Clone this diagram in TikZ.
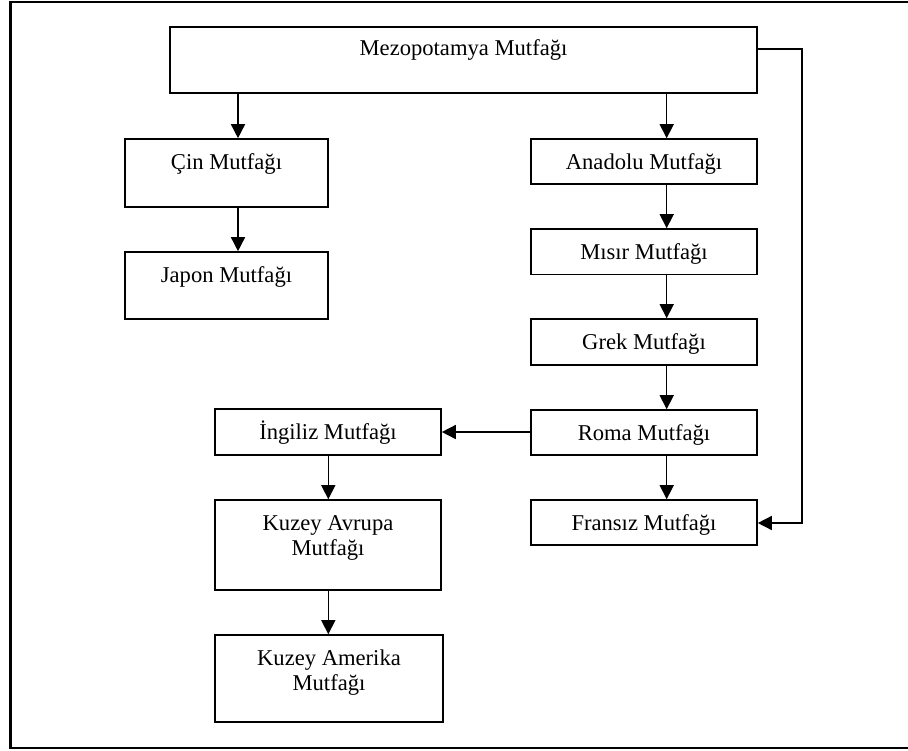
\documentclass[tikz,border=0pt]{standalone}
\usepackage{fontspec}
\setmainfont{Liberation Serif}
\usetikzlibrary{arrows.meta,calc}
\tikzset{
  box/.style={draw, line width=1.6pt, inner sep=0pt, rectangle},
  txt/.style={font=\fontsize{22.6}{25}\selectfont, inner sep=0pt, align=center, anchor=base},
  arr/.style={line width=1.5pt, -{Triangle[width=14pt,length=14pt]}},
  frame/.style={draw, line width=2.5pt}
}
\begin{document}
\begin{tikzpicture}[x=1pt,y=-1pt]
\useasboundingbox (0,0) rectangle (908,750);
\draw[frame] (10.5,2) rectangle (912,748);
% boxes
\node[box, minimum width=587pt, minimum height=66pt] (mez) at (463.5,60) {};
\node[box, minimum width=203pt, minimum height=68pt] (cin) at (226.5,173) {};
\node[box, minimum width=203pt, minimum height=67pt] (jap) at (226.5,285.5) {};
\node[box, minimum width=226pt, minimum height=45pt] (ana) at (644,161.5) {};
\node[box, minimum width=226pt, minimum height=45.5pt] (mis) at (644,251.75) {};
\node[box, minimum width=226pt, minimum height=46pt] (gre) at (644,342) {};
\node[box, minimum width=226pt, minimum height=45pt] (rom) at (644,432.5) {};
\node[box, minimum width=226pt, minimum height=45pt] (fra) at (644,522.5) {};
\node[box, minimum width=226pt, minimum height=46pt] (ing) at (328,432) {};
\node[box, minimum width=226pt, minimum height=90pt] (kav) at (328,545) {};
\node[box, minimum width=228pt, minimum height=87pt] (kam) at (329,678.5) {};
% texts
\node[txt] (mezt) at ($(mez.north)+(0,29)$) {Mezopotamya Mutfağı};
\node[txt] (cint) at ($(cin.north)+(0,31)$) {Çin Mutfağı};
\node[txt] (japt) at ($(jap.north)+(0,31)$) {Japon Mutfağı};
\node[txt] (anat) at ($(ana.north)+(0,31)$) {Anadolu Mutfağı};
\node[txt] (mist) at ($(mis.north)+(0,31)$) {Mısır Mutfağı};
\node[txt] (gret) at ($(gre.north)+(0,31)$) {Grek Mutfağı};
\node[txt] (romt) at ($(rom.north)+(0,31)$) {Roma Mutfağı};
\node[txt] (frat) at ($(fra.north)+(0,31)$) {Fransız Mutfağı};
\node[txt] (ingt) at ($(ing.north)+(0,31)$) {İngiliz Mutfağı};
\node[txt] (kavt) at ($(kav.north)+(0,56.7)$) {Kuzey Avrupa\\Mutfağı};
\node[txt] (kamt) at ($(kam.north)+(0,56.7)$) {Kuzey Amerika\\Mutfağı};
% connector columns
\coordinate (cl) at (238,0);
\coordinate (cr) at (666.7,0);
\coordinate (cm) at (328.3,0);
\coordinate (rr) at (802,0);
\coordinate (ytop) at (0,49);
\coordinate (yfr) at (0,523);
% arrows
\draw[arr] (mez.south -| cl) -- (cin.north -| cl);
\draw[arr] (cin.south -| cl) -- (jap.north -| cl);
\draw[arr] (mez.south -| cr) -- (ana.north -| cr);
\draw[arr] (ana.south -| cr) -- (mis.north -| cr);
\draw[arr] (mis.south -| cr) -- (gre.north -| cr);
\draw[arr] (gre.south -| cr) -- (rom.north -| cr);
\draw[arr] (rom.south -| cr) -- (fra.north -| cr);
\draw[arr] (rom.west |- 0,432) -- (ing.east |- 0,432);
\draw[arr] (ing.south -| cm) -- (kav.north -| cm);
\draw[arr] (kav.south -| cm) -- (kam.north -| cm);
\draw[arr] (mez.east |- ytop) -| (rr |- yfr) -- (fra.east |- yfr);
\end{tikzpicture}
\end{document}
